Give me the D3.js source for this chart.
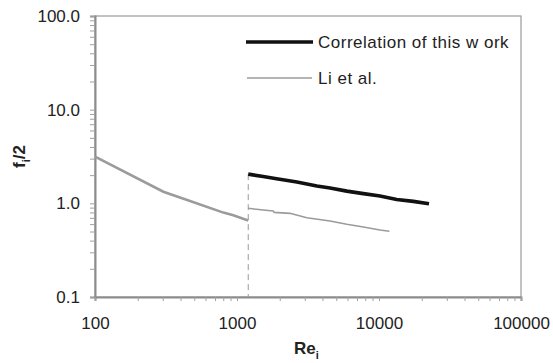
<!DOCTYPE html>
<html>
<head>
<meta charset="utf-8">
<script src="https://cdn.jsdelivr.net/npm/d3@7"></script>
<style>
  body { margin: 0; background: #fff; }
  text { font-family: "Liberation Sans", Arial, sans-serif; fill: #222; }
</style>
</head>
<body>
<svg id="chart" width="553" height="363"></svg>
<script>
// Correlation of this work (turbulent region)
const corrRe = [1200, 1530, 1900, 2640, 3650, 4520, 5930, 7760, 10160, 13330, 17460, 22500];
const corrF = [2.05, 1.93, 1.83, 1.69, 1.53, 1.46, 1.35, 1.27, 1.20, 1.10, 1.05, 0.99];

// Li et al. - laminar part
const liLamRe = [100, 303, 467, 802, 942, 1170, 1200];
const liLamF = [3.15, 1.33, 1.06, 0.796, 0.745, 0.664, 0.655];

// Li et al. - turbulent part
const liTurbRe = [1200, 1530, 1800, 1830, 2360, 3100, 4520, 5930, 7760, 10160, 11830];
const liTurbF = [0.885, 0.848, 0.828, 0.80, 0.782, 0.703, 0.647, 0.597, 0.558, 0.519, 0.503];

const transitionRe = 1200;

const xMajor = [100, 1000, 10000, 100000];
const yMajor = [0.1, 1, 10, 100];

const svg = d3.select('#chart');
const plotLeft = 95, plotRight = 521, plotTop = 16, plotBottom = 297;

const x = d3.scaleLog().domain([100, 100000]).range([plotLeft, plotRight]);
const y = d3.scaleLog().domain([0.1, 100]).range([plotBottom, plotTop]);

// minor + major ticks for log axes
function logTicks(lo, hi) {
  const t = [];
  for (let d = lo; d < hi * 0.99; d *= 10) {
    for (let k = 1; k < 10; k++) t.push(+(d * k).toPrecision(6));
  }
  t.push(hi);
  return t;
}

// plot border
svg.append('rect')
  .attr('x', plotLeft).attr('y', plotTop)
  .attr('width', plotRight - plotLeft).attr('height', plotBottom - plotTop)
  .attr('fill', 'none')
  .attr('stroke', '#9a9a9a')
  .attr('stroke-width', 1.2);

const yAxis = svg.append('g')
  .attr('transform', 'translate(' + plotLeft + ',0)')
  .call(d3.axisLeft(y)
    .tickValues(logTicks(0.1, 100))
    .tickSize(5)
    .tickPadding(10)
    .tickFormat(d => yMajor.some(m => Math.abs(m - d) < 1e-9) ? d3.format('.1f')(d) : ''));

const xAxis = svg.append('g')
  .attr('transform', 'translate(0,' + plotBottom + ')')
  .call(d3.axisBottom(x)
    .tickValues(logTicks(100, 100000))
    .tickSize(4)
    .tickPadding(16)
    .tickFormat(d => xMajor.includes(d) ? d3.format('d')(d) : ''));

[yAxis, xAxis].forEach(ax => {
  ax.select('.domain').attr('stroke', '#8c8c8c').attr('stroke-width', 2);
  ax.selectAll('.tick line').attr('stroke', '#a0a0a0').attr('stroke-width', 1);
  ax.selectAll('.tick text').style('font-size', '17px').attr('fill', '#222');
});

// dashed transition line
svg.append('line')
  .attr('x1', x(transitionRe)).attr('x2', x(transitionRe))
  .attr('y1', y(corrF[0])).attr('y2', plotBottom)
  .attr('stroke', '#999')
  .attr('stroke-width', 1)
  .attr('stroke-dasharray', '6,4');

const line = d3.line()
  .x(d => x(d[0]))
  .y(d => y(d[1]));

svg.append('path')
  .datum(d3.zip(liLamRe, liLamF))
  .attr('d', line)
  .attr('fill', 'none')
  .attr('stroke', '#9b9b9b')
  .attr('stroke-width', 2.6);

svg.append('path')
  .datum(d3.zip(liTurbRe, liTurbF))
  .attr('d', line)
  .attr('fill', 'none')
  .attr('stroke', '#9b9b9b')
  .attr('stroke-width', 1.6);

svg.append('path')
  .datum(d3.zip(corrRe, corrF))
  .attr('d', line)
  .attr('fill', 'none')
  .attr('stroke', '#111')
  .attr('stroke-width', 3.6);

// legend
const legend = svg.append('g');
legend.append('line')
  .attr('x1', 246).attr('x2', 313).attr('y1', 42).attr('y2', 42)
  .attr('stroke', '#111').attr('stroke-width', 3.6);
legend.append('text')
  .attr('x', 318).attr('y', 48)
  .style('font-size', '17px')
  .style('letter-spacing', '0.5px')
  .text('Correlation of this w ork');
legend.append('line')
  .attr('x1', 247).attr('x2', 312).attr('y1', 78).attr('y2', 78)
  .attr('stroke', '#9b9b9b').attr('stroke-width', 1.6);
legend.append('text')
  .attr('x', 318).attr('y', 84)
  .style('font-size', '17px')
  .style('letter-spacing', '0.5px')
  .text('Li et al.');

// axis titles
const xt = svg.append('text')
  .attr('x', 294).attr('y', 354)
  .style('font-size', '17px')
  .style('font-weight', 'bold');
xt.append('tspan').text('Re');
xt.append('tspan').attr('dy', 5).style('font-size', '11px').text('i');

const yt = svg.append('text')
  .attr('transform', 'translate(25,' + ((plotTop + plotBottom) / 2) + ') rotate(-90)')
  .attr('text-anchor', 'middle')
  .style('font-size', '17px')
  .style('font-weight', 'bold');
yt.append('tspan').text('f');
yt.append('tspan').attr('dy', 5).style('font-size', '11px').text('i');
yt.append('tspan').attr('dy', -5).text('/2');
</script>
</body>
</html>
